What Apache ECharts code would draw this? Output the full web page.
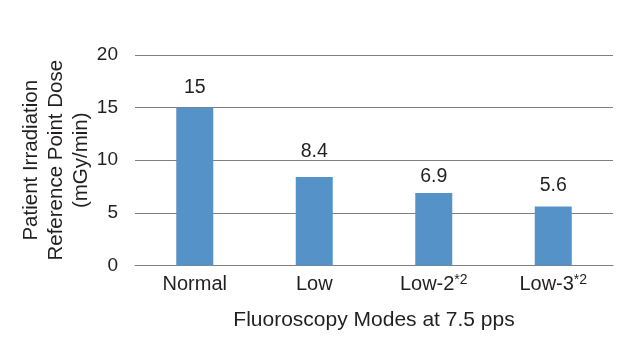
<!DOCTYPE html>
<html>
<head>
<meta charset="utf-8">
<script src="https://cdn.jsdelivr.net/npm/echarts@6/dist/echarts.min.js"></script>
<style>html,body{margin:0;padding:0;background:#fff}#c{width:640px;height:360px}</style>
</head>
<body>
<div id="c"></div>
<script>
var categories = ['Normal', 'Low', 'Low-2', 'Low-3'];
var superscripts = ['', '', '*2', '*2'];
var doseValues = [15, 8.4, 6.9, 5.6];
var yTicks = [0, 5, 10, 15, 20];
var xTitle = 'Fluoroscopy Modes at 7.5 pps';
var yTitle = 'Patient Irradiation\nReference Point Dose\n(mGy/min)';

// label spacing above each bar (style only)
var labelGaps = [10, 15.5, 6.5, 10.5];

var FONT = '"Liberation Sans", Arial, Helvetica, sans-serif';
var TXT = '#231f20';
var chart = echarts.init(document.getElementById('c'));
chart.setOption({
  animation: false,
  grid: { left: 135, right: 27, top: 55, bottom: 94.5, containLabel: false },
  xAxis: {
    type: 'category',
    data: categories,
    name: xTitle,
    nameLocation: 'middle',
    nameGap: 44,
    nameMoveOverlap: false,
    nameTextStyle: { fontFamily: FONT, fontSize: 21, color: TXT },
    axisLine: { lineStyle: { color: '#808080', width: 1 } },
    axisTick: { show: false },
    axisLabel: {
      interval: 0,
      margin: 8,
      fontFamily: FONT, fontSize: 20, color: TXT,
      formatter: function (v, i) {
        var s = superscripts[i];
        return s ? '{a|' + v + '}{s|' + s + '}' : '{a|' + v + '}';
      },
      rich: {
        a: { fontFamily: FONT, fontSize: 20, color: TXT, lineHeight: 22 },
        s: { fontFamily: FONT, fontSize: 14, color: TXT, lineHeight: 22, padding: [0, 0, 9, 0] }
      }
    }
  },
  yAxis: {
    type: 'value',
    min: 0, max: 20, interval: 5,
    name: yTitle,
    nameLocation: 'middle',
    nameRotate: 90,
    nameGap: 41,
    nameMoveOverlap: false,
    nameTextStyle: { fontFamily: FONT, fontSize: 20.5, color: TXT, lineHeight: 25, align: 'center' },
    axisLine: { show: false },
    axisTick: { show: false },
    axisLabel: { margin: 17, fontFamily: FONT, fontSize: 19, color: TXT },
    splitLine: { lineStyle: { color: '#808080', width: 1 } }
  },
  series: [{
    type: 'bar',
    data: doseValues.map(function (v, i) {
      return { value: v, label: { distance: labelGaps[i] } };
    }),
    barWidth: 37,
    itemStyle: { color: '#5592c8' },
    label: {
      show: true, position: 'top', distance: 9,
      fontFamily: FONT, fontSize: 19.5, color: TXT
    }
  }]
});
</script>
</body>
</html>
